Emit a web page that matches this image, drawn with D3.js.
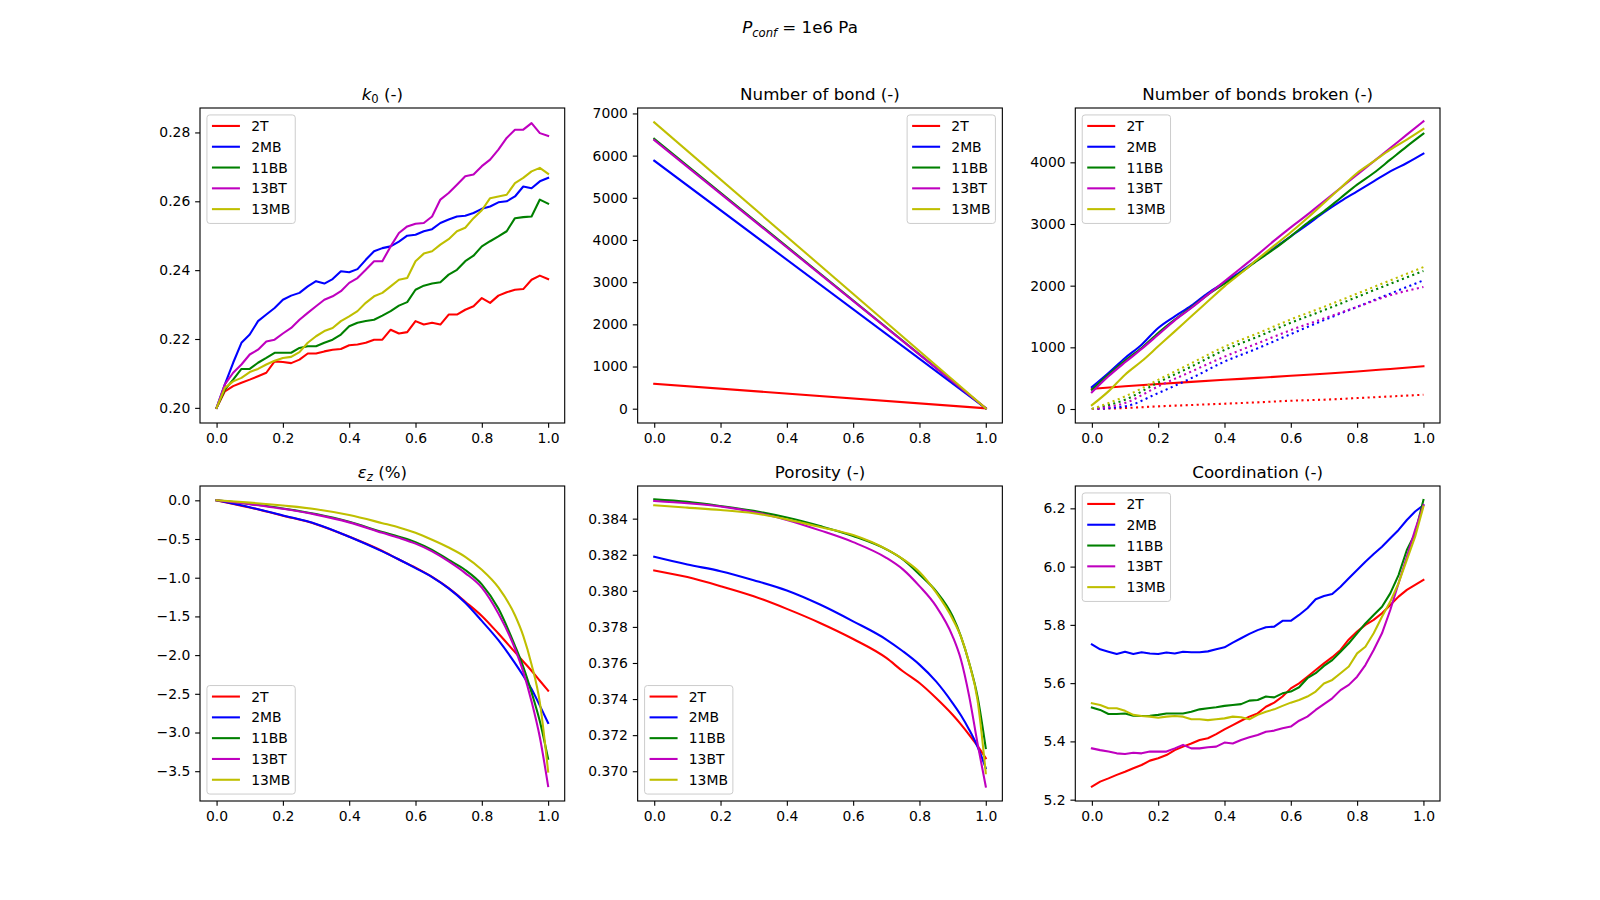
<!DOCTYPE html>
<html>
<head>
<meta charset="utf-8">
<script src="https://cdn.jsdelivr.net/npm/d3@7"></script>
<style>
  body { margin: 0; background: #fff; }
  svg { font-family: "DejaVu Sans", sans-serif; }
</style>
</head>
<body>
<div id="viz"></div>
<script>
// ---- data ----
const seriesNames = ["2T", "2MB", "11BB", "13BT", "13MB"];
const seriesColors = ["#ff0000", "#0000ff", "#008000", "#bf00bf", "#bfbf00"];

const xFine = [0, 0.025, 0.05, 0.075, 0.1, 0.125, 0.15, 0.175, 0.2, 0.225, 0.25, 0.275, 0.3, 0.325, 0.35, 0.375,
  0.4, 0.425, 0.45, 0.475, 0.5, 0.525, 0.55, 0.575, 0.6, 0.625, 0.65, 0.675, 0.7, 0.725, 0.75, 0.775,
  0.8, 0.825, 0.85, 0.875, 0.9, 0.925, 0.95, 0.975, 1.0];
const xTwentieth = [0, 0.05, 0.1, 0.15, 0.2, 0.25, 0.3, 0.35, 0.4, 0.45, 0.5, 0.55, 0.6, 0.65, 0.7, 0.75, 0.8, 0.85, 0.9, 0.95, 1.0];
const xTenth = [0, 0.1, 0.2, 0.3, 0.4, 0.5, 0.6, 0.7, 0.8, 0.9, 1.0];
const xCurve = [0, 0.1, 0.2, 0.3, 0.4, 0.5, 0.6, 0.7, 0.75, 0.8, 0.85, 0.9, 0.925, 0.95, 0.975, 1.0];
const xEps = [0, 0.1, 0.2, 0.3, 0.4, 0.5, 0.55, 0.6, 0.65, 0.7, 0.75, 0.8, 0.85, 0.9, 0.925, 0.95, 0.975, 1.0];
const xEnds = [0, 1.0];

// k0 (-)
const k0_2T = [0.200,0.2048,0.2063,0.2073,0.2082,0.2092,0.2102,0.2135,0.2133,0.2130,0.2140,0.2158,0.2158,0.2164,0.2169,0.2171,0.2182,0.2184,0.2189,0.2198,0.2198,0.2227,0.2216,0.2220,0.2252,0.2242,0.2247,0.2242,0.2271,0.2271,0.2285,0.2295,0.2319,0.2305,0.2326,0.2336,0.2343,0.2345,0.2372,0.2384,0.2374];
const k0_2MB = [0.200,0.2068,0.2131,0.2189,0.2213,0.2252,0.2271,0.2290,0.2314,0.2326,0.2334,0.2353,0.2368,0.2361,0.2374,0.2397,0.2394,0.2403,0.2430,0.2455,0.2464,0.2469,0.2483,0.2500,0.2503,0.2513,0.2519,0.2537,0.2547,0.2556,0.2558,0.2566,0.2578,0.2585,0.2597,0.2600,0.2614,0.2643,0.2638,0.2658,0.2668];
const k0_11BB = [0.200,0.2053,0.2082,0.2113,0.2113,0.2131,0.2145,0.2160,0.2160,0.2160,0.2174,0.2179,0.2179,0.2189,0.2198,0.2213,0.2237,0.2247,0.2252,0.2256,0.2268,0.2281,0.2297,0.2307,0.2343,0.2355,0.2361,0.2365,0.2387,0.2401,0.2426,0.2442,0.2469,0.2484,0.2498,0.2513,0.2551,0.2554,0.2556,0.2605,0.2593];
const k0_13BT = [0.200,0.2068,0.2102,0.2126,0.2155,0.2169,0.2193,0.2198,0.2216,0.2232,0.2256,0.2276,0.2295,0.2314,0.2324,0.2339,0.2363,0.2377,0.2401,0.2426,0.2426,0.2469,0.2508,0.2527,0.2535,0.2537,0.2556,0.2605,0.2624,0.2648,0.2673,0.2678,0.2702,0.2721,0.2750,0.2784,0.2808,0.2808,0.2827,0.2798,0.2790];
const k0_13MB = [0.200,0.2058,0.2077,0.2087,0.2104,0.2113,0.2126,0.2137,0.2145,0.2148,0.2162,0.2189,0.2208,0.2223,0.2232,0.2252,0.2266,0.2281,0.2305,0.2324,0.2334,0.2353,0.2372,0.2377,0.2426,0.2448,0.2455,0.2474,0.2490,0.2513,0.2523,0.2551,0.2574,0.2609,0.2614,0.2619,0.2653,0.2668,0.2687,0.2697,0.2680];

// Number of bond (-)
const bond_2T = [590, 10];
const bond_2MB = [5880, 10];
const bond_11BB = [6400, 10];
const bond_13BT = [6370, 10];
const bond_13MB = [6790, 10];

// Number of bonds broken (-), solid
const broken_2T = [328, 368, 405, 440, 473, 505, 538, 572, 608, 650, 694];
const broken_2MB = [355, 584, 827, 1043, 1314, 1503, 1676, 1881, 2054, 2232, 2422, 2611, 2800, 2989, 3189, 3368, 3530, 3692, 3854, 3989, 4141];
const broken_11BB = [312, 557, 784, 989, 1232, 1449, 1649, 1854, 2032, 2216, 2411, 2595, 2800, 3016, 3205, 3422, 3638, 3827, 4043, 4259, 4465];
const broken_13BT = [270, 530, 757, 973, 1205, 1438, 1638, 1854, 2070, 2286, 2503, 2730, 2946, 3151, 3368, 3584, 3800, 4016, 4232, 4449, 4665];
const broken_13MB = [62, 286, 557, 773, 1016, 1259, 1503, 1746, 1989, 2205, 2432, 2649, 2865, 3097, 3341, 3584, 3827, 4016, 4205, 4368, 4541];
// Number of bonds broken (-), dotted
const brokenDot_2T = [0, 16, 43, 65, 86, 108, 134, 151, 177, 204, 231];
const brokenDot_2MB = [0, 43, 258, 500, 769, 984, 1215, 1441, 1656, 1871, 2086];
const brokenDot_11BB = [0, 150, 430, 688, 957, 1172, 1398, 1602, 1817, 2032, 2237];
const brokenDot_13BT = [0, 97, 366, 608, 849, 1065, 1280, 1468, 1656, 1844, 1978];
const brokenDot_13MB = [0, 204, 473, 742, 1011, 1226, 1452, 1656, 1871, 2086, 2301];

// eps_z (%)
const eps_2T = [0, -0.092, -0.198, -0.308, -0.47, -0.655, -0.765, -0.87, -0.99, -1.135, -1.31, -1.494, -1.721, -1.962, -2.082, -2.202, -2.331, -2.46];
const eps_2MB = [0, -0.09, -0.195, -0.305, -0.47, -0.66, -0.765, -0.876, -0.992, -1.138, -1.322, -1.558, -1.807, -2.104, -2.267, -2.438, -2.653, -2.877];
const eps_11BB = [0, -0.048, -0.105, -0.178, -0.277, -0.41, -0.47, -0.54, -0.64, -0.77, -0.9, -1.086, -1.399, -1.88, -2.151, -2.481, -2.855, -3.34];
const eps_13BT = [0, -0.05, -0.11, -0.185, -0.285, -0.42, -0.485, -0.56, -0.66, -0.79, -0.94, -1.129, -1.464, -1.915, -2.216, -2.598, -3.062, -3.693];
const eps_13MB = [0, -0.03, -0.068, -0.115, -0.19, -0.295, -0.35, -0.42, -0.51, -0.61, -0.73, -0.897, -1.125, -1.485, -1.751, -2.12, -2.61, -3.504];

// Porosity (-)
const por_2T = [0.38113, 0.38076, 0.38026, 0.3797, 0.3790, 0.37822, 0.37733, 0.37628, 0.37554, 0.37489, 0.37406, 0.37313, 0.3726, 0.37202, 0.3714, 0.37072];
const por_2MB = [0.38189, 0.38146, 0.38109, 0.38059, 0.38002, 0.37924, 0.37831, 0.3773, 0.37665, 0.37591, 0.37498, 0.37378, 0.3731, 0.3723, 0.37137, 0.37017];
const por_11BB = [0.38507, 0.38493, 0.3847, 0.38443, 0.38406, 0.38359, 0.38304, 0.3823, 0.38174, 0.38091, 0.37998, 0.37859, 0.37748, 0.376, 0.37415, 0.37128];
const por_13BT = [0.38498, 0.38485, 0.38467, 0.38437, 0.38393, 0.38335, 0.3827, 0.38183, 0.38119, 0.38026, 0.37915, 0.37748, 0.37619, 0.37415, 0.37156, 0.36915];
const por_13MB = [0.38474, 0.38461, 0.38448, 0.3843, 0.38396, 0.38354, 0.38309, 0.38231, 0.38176, 0.38104, 0.37991, 0.37844, 0.37746, 0.37598, 0.37396, 0.36989];

// Coordination (-)
const coord_2T = [5.245,5.262,5.273,5.285,5.296,5.308,5.319,5.334,5.342,5.353,5.370,5.382,5.393,5.405,5.411,5.425,5.441,5.456,5.471,5.485,5.496,5.519,5.533,5.554,5.582,5.599,5.622,5.645,5.668,5.689,5.714,5.750,5.777,5.800,5.817,5.840,5.868,5.897,5.920,5.937,5.954];
const coord_2MB = [5.733,5.716,5.708,5.700,5.708,5.700,5.706,5.702,5.700,5.705,5.702,5.708,5.706,5.706,5.709,5.716,5.723,5.739,5.754,5.769,5.782,5.792,5.794,5.814,5.814,5.834,5.857,5.888,5.899,5.906,5.931,5.960,5.988,6.017,6.043,6.068,6.097,6.126,6.160,6.189,6.211];
const coord_11BB = [5.516,5.508,5.494,5.494,5.496,5.488,5.487,5.488,5.491,5.496,5.496,5.496,5.502,5.510,5.514,5.517,5.522,5.525,5.528,5.540,5.542,5.554,5.551,5.565,5.571,5.586,5.617,5.634,5.659,5.679,5.708,5.737,5.771,5.805,5.834,5.862,5.908,5.971,6.057,6.114,6.229];
const coord_13BT = [5.376,5.370,5.365,5.359,5.357,5.361,5.359,5.365,5.365,5.365,5.376,5.388,5.376,5.376,5.380,5.382,5.396,5.393,5.405,5.414,5.422,5.433,5.437,5.445,5.451,5.471,5.485,5.508,5.528,5.548,5.576,5.594,5.622,5.662,5.714,5.771,5.851,5.943,6.034,6.126,6.211];
const coord_13MB = [5.531,5.525,5.514,5.514,5.505,5.491,5.487,5.485,5.481,5.485,5.487,5.485,5.476,5.476,5.473,5.476,5.479,5.485,5.483,5.476,5.491,5.502,5.510,5.522,5.533,5.542,5.554,5.571,5.599,5.611,5.634,5.657,5.702,5.725,5.771,5.828,5.880,5.943,6.023,6.103,6.206];

// tick labels
const xTicks = [0, 0.2, 0.4, 0.6, 0.8, 1.0];
const k0Ticks = [0.20, 0.22, 0.24, 0.26, 0.28];
const bondTicks = [0, 1000, 2000, 3000, 4000, 5000, 6000, 7000];
const brokenTicks = [0, 1000, 2000, 3000, 4000];
const epsTicks = [0, -0.5, -1.0, -1.5, -2.0, -2.5, -3.0, -3.5];
const porTicks = [0.370, 0.372, 0.374, 0.376, 0.378, 0.380, 0.382, 0.384];
const coordTicks = [5.2, 5.4, 5.6, 5.8, 6.0, 6.2];

// ---- figure ----
const W = 1600, H = 900;
const svg = d3.select("#viz").append("svg")
  .attr("width", W)
  .attr("height", H);

// matplotlib-like subplot grid (left .125, right .9, bottom .11, top .88, spacing .2)
const axW = (0.775 * W) / 3.4;
const axH = (0.77 * H) / 2.2;
const colX = [0, 1, 2].map(i => 0.125 * W + i * axW * 1.2);
const rowY = [0, 1].map(i => 0.12 * H + i * axH * 1.2);

const fs = 13.9;   // 10pt
const tfs = 16.67; // 12pt

// suptitle
const sup = svg.append("text")
  .attr("x", W / 2)
  .attr("y", 33)
  .attr("text-anchor", "middle")
  .style("font-size", tfs + "px");
sup.append("tspan").style("font-style", "italic").text("P");
sup.append("tspan").style("font-style", "italic").style("font-size", "11.6px").attr("dy", 3.5).text("conf");
sup.append("tspan").attr("dy", -3.5).text(" = 1e6 Pa");

const fmt2 = d3.format(".2f"), fmt1 = d3.format(".1f"), fmt3 = d3.format(".3f"), fmt0 = d3.format("d");

const panels = [
  {
    col: 0, row: 0, title: [["k", "it"], ["0", "sub"], [" (-)", ""]],
    yDomain: [0.1956, 0.2871], yTicks: k0Ticks, yFmt: fmt2, legend: "ul", smooth: false,
    lines: [
      {x: xFine, y: k0_2T, s: 0}, {x: xFine, y: k0_2MB, s: 1}, {x: xFine, y: k0_11BB, s: 2},
      {x: xFine, y: k0_13BT, s: 3}, {x: xFine, y: k0_13MB, s: 4}
    ]
  },
  {
    col: 1, row: 0, title: [["Number of bond (-)", ""]],
    yDomain: [-339, 7129], yTicks: bondTicks, yFmt: fmt0, legend: "ur", smooth: false,
    lines: [
      {x: xEnds, y: bond_2T, s: 0}, {x: xEnds, y: bond_2MB, s: 1}, {x: xEnds, y: bond_11BB, s: 2},
      {x: xEnds, y: bond_13BT, s: 3}, {x: xEnds, y: bond_13MB, s: 4}
    ]
  },
  {
    col: 2, row: 0, title: [["Number of bonds broken (-)", ""]],
    yDomain: [-227, 4881], yTicks: brokenTicks, yFmt: fmt0, legend: "ul", smooth: true,
    lines: [
      {x: xTenth, y: broken_2T, s: 0}, {x: xTwentieth, y: broken_2MB, s: 1}, {x: xTwentieth, y: broken_11BB, s: 2},
      {x: xTwentieth, y: broken_13BT, s: 3}, {x: xTwentieth, y: broken_13MB, s: 4},
      {x: xTenth, y: brokenDot_2T, s: 0, dot: true}, {x: xTenth, y: brokenDot_2MB, s: 1, dot: true},
      {x: xTenth, y: brokenDot_11BB, s: 2, dot: true}, {x: xTenth, y: brokenDot_13BT, s: 3, dot: true},
      {x: xTenth, y: brokenDot_13MB, s: 4, dot: true}
    ]
  },
  {
    col: 0, row: 1, title: [["ε", "it"], ["z", "subit"], [" (%)", ""]],
    yDomain: [-3.885, 0.185], yTicks: epsTicks, yFmt: fmt1, legend: "ll", smooth: true,
    lines: [
      {x: xEps, y: eps_2T, s: 0}, {x: xEps, y: eps_2MB, s: 1}, {x: xEps, y: eps_11BB, s: 2},
      {x: xEps, y: eps_13BT, s: 3}, {x: xEps, y: eps_13MB, s: 4}
    ]
  },
  {
    col: 1, row: 1, title: [["Porosity (-)", ""]],
    yDomain: [0.36835, 0.38581], yTicks: porTicks, yFmt: fmt3, legend: "ll", smooth: true,
    lines: [
      {x: xCurve, y: por_2T, s: 0}, {x: xCurve, y: por_2MB, s: 1}, {x: xCurve, y: por_11BB, s: 2},
      {x: xCurve, y: por_13BT, s: 3}, {x: xCurve, y: por_13MB, s: 4}
    ]
  },
  {
    col: 2, row: 1, title: [["Coordination (-)", ""]],
    yDomain: [5.1954, 6.2767], yTicks: coordTicks, yFmt: fmt1, legend: "ul", smooth: false,
    lines: [
      {x: xFine, y: coord_2T, s: 0}, {x: xFine, y: coord_2MB, s: 1}, {x: xFine, y: coord_11BB, s: 2},
      {x: xFine, y: coord_13BT, s: 3}, {x: xFine, y: coord_13MB, s: 4}
    ]
  }
];

panels.forEach((p, pi) => drawPanel(p, pi));

function drawPanel(p, pi) {
  const x0 = colX[p.col], y0 = rowY[p.row];
  const g = svg.append("g").attr("transform", `translate(${x0},${y0})`);

  const x = d3.scaleLinear().domain([-0.05, 1.05]).range([0, axW]);
  const y = d3.scaleLinear().domain(p.yDomain).range([axH, 0]);

  g.append("clipPath").attr("id", "clip" + pi)
    .append("rect").attr("width", axW).attr("height", axH);

  const line = d3.line()
    .x(d => x(d[0]))
    .y(d => y(d[1]))
    .curve(p.smooth ? d3.curveMonotoneX : d3.curveLinear);

  const plot = g.append("g").attr("clip-path", `url(#clip${pi})`);
  p.lines.forEach(l => {
    plot.append("path")
      .datum(l.x.map((v, i) => [v, l.y[i]]))
      .attr("d", line)
      .attr("fill", "none")
      .attr("stroke", seriesColors[l.s])
      .attr("stroke-width", 2.08)
      .attr("stroke-linejoin", "round")
      .attr("stroke-linecap", l.dot ? "butt" : "square")
      .attr("stroke-dasharray", l.dot ? "2.08 3.44" : null);
  });

  // axes
  const xAxis = g.append("g")
    .attr("transform", `translate(0,${axH})`)
    .call(d3.axisBottom(x).tickValues(xTicks).tickFormat(fmt1).tickSize(4.86).tickPadding(4.86));
  const yAxis = g.append("g")
    .call(d3.axisLeft(y).tickValues(p.yTicks).tickFormat(d => p.yFmt(d).replace("-", "\u2212")).tickSize(4.86).tickPadding(4.86));
  [xAxis, yAxis].forEach(a => {
    a.select(".domain").remove();
    a.selectAll("line").attr("stroke", "#000").attr("stroke-width", 1.11);
    a.selectAll("text")
      .attr("fill", "#000")
      .style("font-size", fs + "px")
      .style("font-family", "DejaVu Sans");
  });

  // spines
  g.append("rect")
    .attr("width", axW)
    .attr("height", axH)
    .attr("fill", "none")
    .attr("stroke", "#000")
    .attr("stroke-width", 1.11);

  // title
  const t = g.append("text")
    .attr("x", axW / 2)
    .attr("y", -8.3)
    .attr("text-anchor", "middle")
    .style("font-size", tfs + "px");
  let shifted = false;
  p.title.forEach(([txt, kind]) => {
    const ts = t.append("tspan").text(txt);
    if (kind === "it") ts.style("font-style", "italic");
    if (kind === "sub" || kind === "subit") {
      ts.style("font-size", "11.6px").attr("dy", 3.5);
      if (kind === "subit") ts.style("font-style", "italic");
      shifted = true;
    } else if (shifted) {
      ts.attr("dy", -3.5);
      shifted = false;
    }
  });

  // legend
  const bw = 88.3, bh = 108.5, inset = 6.94;
  const lx = p.legend === "ur" ? axW - inset - bw : inset;
  const ly = p.legend === "ll" ? axH - inset - bh : inset;
  const lg = g.append("g").attr("transform", `translate(${lx},${ly})`);
  lg.append("rect")
    .attr("width", bw)
    .attr("height", bh)
    .attr("rx", 2.8)
    .attr("fill", "#fff")
    .attr("fill-opacity", 0.8)
    .attr("stroke", "#cccccc")
    .attr("stroke-width", 1);
  seriesNames.forEach((name, i) => {
    const cy = 11 + i * 20.8;
    lg.append("line")
      .attr("x1", 5).attr("x2", 33)
      .attr("y1", cy).attr("y2", cy)
      .attr("stroke", seriesColors[i])
      .attr("stroke-width", 2.08);
    lg.append("text")
      .attr("x", 44.2)
      .attr("y", cy)
      .attr("dy", "0.36em")
      .style("font-size", fs + "px")
      .text(name);
  });
}
</script>
</body>
</html>
